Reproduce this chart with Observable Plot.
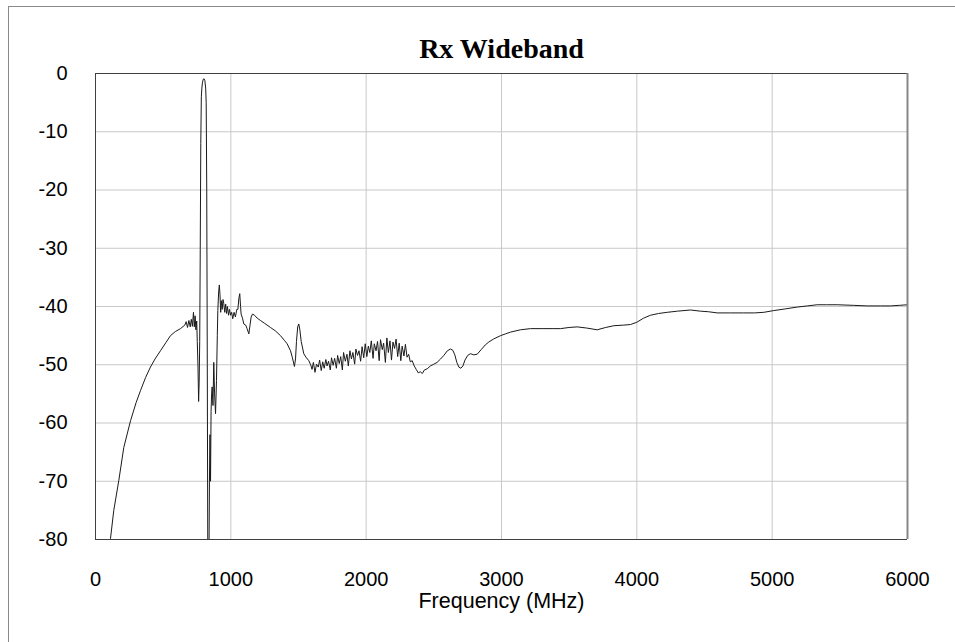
<!DOCTYPE html>
<html>
<head>
<meta charset="utf-8">
<script src="https://cdn.jsdelivr.net/npm/d3@7"></script>
<script src="https://cdn.jsdelivr.net/npm/@observablehq/plot@0.6"></script>
<style>
  html, body { margin: 0; padding: 0; background: #fff; }
  #wrap { position: relative; width: 955px; height: 642px; overflow: hidden; }
  #border { position: absolute; left: 8px; top: 6px; width: 960px; height: 660px;
            border-left: 1px solid #8a8a8a; border-top: 1px solid #8a8a8a; }
  #chart { position: absolute; left: 0; top: 0; }
</style>
</head>
<body>
<div id="wrap"><div id="border"></div><div id="chart"></div></div>
<script>
const titleText = "Rx Wideband";
const xLabelText = "Frequency (MHz)";
const xTicks = [0, 1000, 2000, 3000, 4000, 5000, 6000];
const yTicks = [0, -10, -20, -30, -40, -50, -60, -70, -80];

const freq = [
  105, 111, 135, 172, 209, 259, 300, 333, 370, 406, 440, 480, 520, 554, 590, 628, 660,
  670, 680, 690, 700, 708, 716, 724, 730, 736, 742, 748, 752, 757, 762, 766, 770, 774,
  778, 782, 786, 790, 796, 802, 808, 814, 818, 822, 826, 830, 838, 842, 846, 850, 854,
  858, 862, 868, 874, 880, 887, 894, 900, 904, 910, 915, 920, 925, 930, 936, 942, 948,
  955, 962, 968, 975, 983, 990, 998, 1006, 1014, 1024, 1034, 1044, 1052, 1060, 1066,
  1072, 1076, 1086, 1096, 1110, 1120, 1133, 1140, 1150, 1160, 1175, 1195, 1219, 1250,
  1293, 1330, 1367, 1395, 1416, 1441, 1455, 1470, 1478, 1485, 1494, 1502, 1510, 1520,
  1539, 1555, 1576, 1590,
  1600, 1610, 1622, 1633, 1646, 1656, 1668, 1679, 1690, 1702, 1711, 1722, 1735, 1744,
  1756, 1767, 1780, 1789, 1801, 1812, 1824, 1833, 1846, 1858, 1868, 1880, 1891, 1902,
  1915, 1924, 1936, 1947, 1959, 1970, 1982, 1993, 2005, 2016, 2027, 2038, 2051, 2060,
  2073, 2084, 2096, 2106, 2119, 2129, 2142, 2153, 2164, 2176, 2187, 2198, 2210, 2221,
  2233, 2244, 2256, 2266, 2279, 2290, 2302, 2314, 2326, 2340, 2355, 2370, 2385, 2400,
  2415, 2430, 2451, 2475, 2500, 2524,
  2550, 2574, 2600, 2623, 2640, 2655, 2670, 2685, 2700, 2715, 2730, 2750, 2771, 2795,
  2820, 2850, 2880, 2906, 2940, 2993, 3030, 3066, 3140, 3214, 3300, 3380, 3436, 3500,
  3559, 3630, 3707, 3770, 3830, 3900, 3953, 4000, 4050, 4101, 4160, 4224, 4300, 4396,
  4470, 4530, 4593, 4690, 4790, 4870, 4938, 5012, 5100, 5185, 5260, 5333, 5400, 5480,
  5600, 5702, 5800, 5874, 5940, 6000
];
const db = [
  -81, -79.8, -75, -69.9, -64.2, -59.6, -56.5, -54.4, -52.2, -50.4, -49, -47.6, -46.2, -45, -44.3, -43.8, -43.2,
  -42.6, -43.6, -42.4, -43.5, -42.2, -43.4, -41.0, -43.5, -41.6, -44.0, -42.5, -46, -50, -56.3, -53, -46, -30,
  -12, -4, -2.5, -1.6, -1.0, -0.9, -1.2, -2.5, -5, -20, -50, -85, -85, -70, -62, -70, -58,
  -55, -53.8, -57, -49.6, -55, -58.4, -52.7, -45, -40.7, -37.5, -36.3, -38, -41, -39, -40.5, -38.8, -39.5,
  -41, -39.6, -41.2, -40, -41.5, -40.5, -41.5, -41, -42.1, -41, -41.8, -40.5, -40.5, -38.5, -37.8,
  -40, -41.3, -42, -43, -43.2, -43.8, -44.7, -43.5, -41.8, -41.3, -41.5, -42, -42.4, -42.9,
  -43.6, -44.2, -45, -45.8, -46.4, -47.6, -48.8, -50.3, -49, -46, -43.5, -43.0, -44, -46,
  -48.1, -48.7, -49.3, -50,
  -50.8, -49.6, -51.3, -49.9, -50.4, -49.2, -51.0, -49.5, -50.6, -49.1, -50.2, -49.4, -50.9, -48.8,
  -50.1, -48.9, -50.6, -48.4, -49.8, -48.6, -50.9, -47.9, -49.4, -48.2, -50.2, -47.6, -49.0, -47.9,
  -49.9, -47.3, -48.4, -47.6, -49.4, -46.9, -48.8, -46.4, -48.6, -46.8, -47.9, -45.9, -48.9, -46.4,
  -47.6, -46.0, -49.3, -45.7, -47.4, -46.3, -49.6, -45.4, -47.9, -45.9, -49.2, -46.1, -47.2, -45.6,
  -48.6, -46.3, -49.3, -46.8, -48.5, -46.5, -48.7, -48.2, -49.5, -49.3, -50.2, -50.8, -51.4, -51.2,
  -51.5, -50.9, -50.7, -50.2, -49.9, -49.6,
  -49.0, -48.4, -47.6, -47.3, -47.5, -48.3, -49.6, -50.4, -50.6, -50.2, -49.2, -48.4, -48.1, -48.3,
  -48.2, -47.4, -46.6, -46.1, -45.6, -45.0, -44.7, -44.4, -44.0, -43.8, -43.8, -43.8, -43.8, -43.6,
  -43.5, -43.7, -44.0, -43.6, -43.3, -43.2, -43.1, -42.7, -42.0, -41.5, -41.2, -41.0, -40.8, -40.6,
  -40.8, -40.9, -41.1, -41.1, -41.1, -41.1, -41.0, -40.7, -40.4, -40.1, -39.9, -39.7, -39.7, -39.7,
  -39.8, -39.9, -39.9, -39.9, -39.8, -39.7
];

const data = freq.map((f, i) => ({f, db: db[i]}));
const gridXVals = xTicks.slice(1, -1);
const gridYVals = yTicks.slice(1, -1);

const chart = Plot.plot({
  width: 955,
  height: 642,
  marginLeft: 95,
  marginRight: 48,
  marginTop: 73,
  marginBottom: 103,
  style: {fontFamily: "'Liberation Sans', Arial, sans-serif", background: "transparent", color: "#000"},
  x: {domain: [0, 6000]},
  y: {domain: [-80, 0]},
  marks: [
    Plot.gridX(gridXVals, {stroke: "#c8c8c8", strokeOpacity: 1, strokeWidth: 1}),
    Plot.gridY(gridYVals, {stroke: "#c8c8c8", strokeOpacity: 1, strokeWidth: 1}),
    Plot.line(data, {x: "f", y: "db", stroke: "#1a1a1a", strokeWidth: 1, clip: true}),
    Plot.ruleY([-80], {stroke: "#404040"}),
    Plot.ruleY([0], {stroke: "#404040"}),
    Plot.ruleX([0], {stroke: "#404040"}),
    Plot.ruleX([6000], {stroke: "#888", strokeWidth: 2}),
    Plot.axisX(xTicks, {tickSize: 0, tickPadding: 32, fontSize: 20, label: null, tickFormat: d => String(d)}),
    Plot.axisY(yTicks, {tickSize: 0, tickPadding: 28, fontSize: 20, label: null, tickFormat: d => String(d)}),
    Plot.text([titleText], {text: d => d, frameAnchor: "top", lineAnchor: "middle", dy: -24, fontSize: 28,
      fontWeight: "bold", fontFamily: "'Liberation Serif', 'Times New Roman', serif"}),
    Plot.text([xLabelText], {text: d => d, frameAnchor: "bottom", lineAnchor: "middle", dy: 62, fontSize: 21.5})
  ]
});
document.getElementById("chart").appendChild(chart);
</script>
</body>
</html>
